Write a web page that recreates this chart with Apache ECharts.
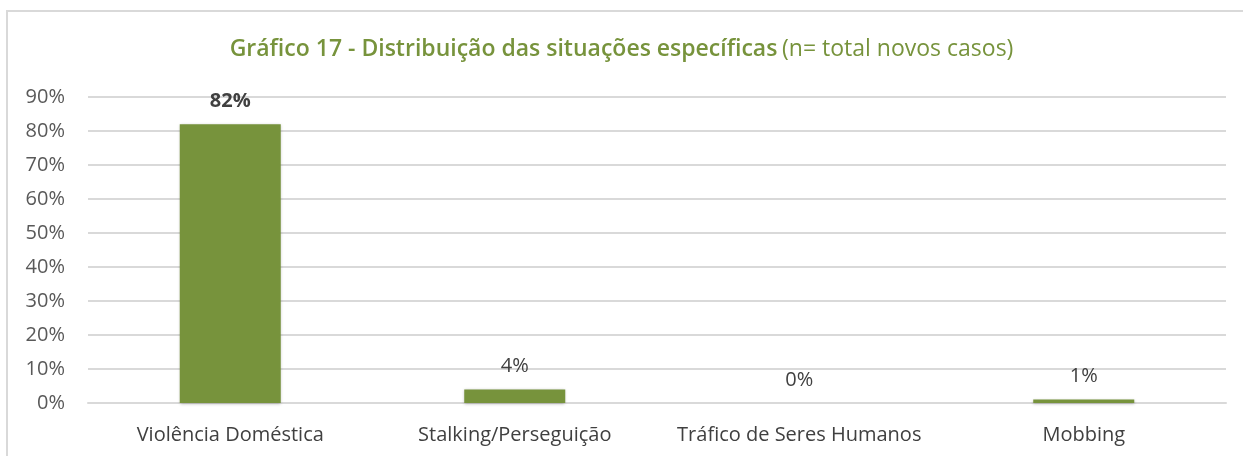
<!DOCTYPE html>
<html>
<head>
<meta charset="utf-8">
<script src="https://cdn.jsdelivr.net/npm/echarts@6/dist/echarts.min.js"></script>
<style>
  html, body { margin: 0; padding: 0; background: #fff; }
  #chart { width: 1243px; height: 456px; }
</style>
</head>
<body>
<div id="chart"></div>
<script>
// categorias e valores (%)
var categories = ['Violência Doméstica', 'Stalking/Perseguição', 'Tráfico de Seres Humanos', 'Mobbing'];
var values = [82, 4, 0, 1];
var yTicks = [0, 10, 20, 30, 40, 50, 60, 70, 80, 90];

var green = '#77933C';
var myChart = echarts.init(document.getElementById('chart'));

var option = {
    backgroundColor: '#fff',
    animation: false,
    textStyle: { fontFamily: 'Open Sans' },
    graphic: [{
        type: 'rect',
        shape: { x: 7, y: 11, width: 1260, height: 470 },
        style: { fill: 'none', stroke: '#d9d9d9', lineWidth: 2 },
        silent: true
    }],
    title: {
        left: 'center',
        top: 33,
        text: '{b|Gráfico 17 - Distribuição das situações específicas} {n|(n= total novos casos)}',
        textStyle: {
            rich: {
                b: { color: green, fontSize: 23, fontWeight: 600, fontFamily: 'Open Sans' },
                n: { color: green, fontSize: 23, fontWeight: 'normal', fontFamily: 'Open Sans' }
            }
        }
    },
    grid: { left: 88, right: 17, top: 97, bottom: 53 },
    xAxis: {
        type: 'category',
        data: categories,
        axisTick: { show: false },
        axisLine: { lineStyle: { color: '#d9d9d9', width: 2 } },
        axisLabel: { color: '#404040', fontSize: 20, margin: 22, interval: 0 }
    },
    yAxis: {
        type: 'value',
        min: yTicks[0],
        max: yTicks[yTicks.length - 1],
        interval: 10,
        axisLabel: {
            color: '#595959',
            fontSize: 20,
            margin: 23,
            formatter: function (v) { return v + '%'; }
        },
        splitLine: { lineStyle: { color: '#d9d9d9', width: 2 } }
    },
    series: [{
        type: 'bar',
        data: values.map(function (v, i) {
            return {
                value: v,
                label: i === 0 ? { fontWeight: 'bold' } : {}
            };
        }),
        barWidth: '35.5%',
        itemStyle: {
            color: green,
            shadowColor: 'rgba(0,0,0,0.25)',
            shadowBlur: 3,
            shadowOffsetY: 1
        },
        label: {
            show: true,
            position: 'top',
            distance: 13,
            color: '#404040',
            fontSize: 20,
            formatter: function (p) { return p.value + '%'; }
        }
    }]
};

myChart.setOption(option);
</script>
</body>
</html>
